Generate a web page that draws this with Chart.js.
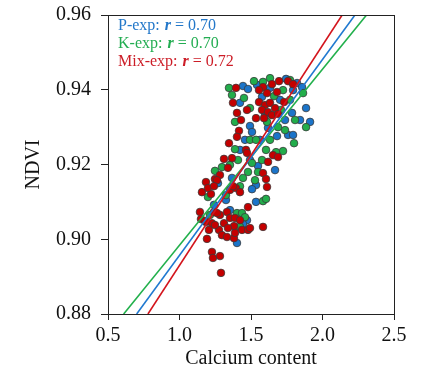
<!DOCTYPE html>
<html><head><meta charset="utf-8">
<script src="https://cdn.jsdelivr.net/npm/chart.js@4"></script>
<style>html,body{margin:0;padding:0;background:#fff}#wrap{width:423px;height:378px}</style>
</head><body><div id="wrap"><canvas id="c" width="423" height="378"></canvas></div>
<script>
const xTicks = [0.5, 1.0, 1.5, 2.0, 2.5];
const yTicks = [0.88, 0.90, 0.92, 0.94, 0.96];
const seriesNames = ['P-exp', 'K-exp', 'Mix-exp'];
const rValues = ['0.70', '0.70', '0.72'];
const slopes = [0.0524, 0.0471, 0.0589];
const intercepts = [0.8433, 0.8513, 0.8341];

const blueX = [1.444,1.479,1.542,1.745,1.822,1.857,1.794,1.633,1.423,1.787,1.885,1.913,1.843,1.493,1.507,1.619,1.682,1.759,1.794,1.493,1.549,1.535,1.269,1.507,1.535,1.353,1.472,1.444,1.402,1.563,1.458,1.668,1.703,1.577,1.325,1.423,1.738,1.241,1.367,1.598];
const blueY = [0.9410,0.9402,0.9413,0.9429,0.9418,0.9407,0.9399,0.9405,0.9365,0.9338,0.9351,0.9314,0.9319,0.9303,0.9287,0.9298,0.9276,0.9279,0.9279,0.9212,0.9196,0.9145,0.9150,0.9134,0.9100,0.9078,0.9051,0.9041,0.8990,0.9266,0.9266,0.9185,0.9373,0.9381,0.9105,0.9239,0.9319,0.9092,0.9164,0.9332];

const greenX = [1.346,1.521,1.584,1.724,1.864,1.633,1.773,1.367,1.710,1.885,1.808,1.388,1.493,1.612,1.689,1.801,1.388,1.605,1.724,1.675,1.409,1.507,1.479,1.248,1.297,1.353,1.444,1.423,1.199,1.584,1.605,1.402,1.437,1.423,1.213,1.528,1.493,1.773,1.633,1.738,1.577,1.458,1.549,1.325,1.451,1.661,1.535];
const greenY = [0.9405,0.9423,0.9421,0.9399,0.9391,0.9431,0.9426,0.9386,0.9346,0.9300,0.9319,0.9314,0.9351,0.9314,0.9300,0.9257,0.9241,0.9239,0.9236,0.9233,0.9212,0.9204,0.9180,0.9183,0.9193,0.9199,0.9164,0.9142,0.9113,0.9102,0.9108,0.9070,0.9070,0.9033,0.9065,0.9158,0.9266,0.9373,0.9266,0.9292,0.9212,0.9059,0.9180,0.9118,0.9378,0.9383,0.9266];

const redX = [1.395,1.584,1.647,1.696,1.759,1.556,1.682,1.612,1.794,1.374,1.731,1.402,1.430,1.472,1.535,1.556,1.598,1.633,1.668,1.577,1.619,1.647,1.689,1.591,1.416,1.402,1.346,1.465,1.472,1.654,1.689,1.311,1.367,1.619,1.339,1.185,1.248,1.283,1.262,1.584,1.605,1.157,1.220,1.199,1.241,1.353,1.395,1.423,1.374,1.612,1.479,1.143,1.150,1.185,1.241,1.283,1.332,1.353,1.311,1.388,1.423,1.381,1.437,1.339,1.276,1.297,1.332,1.381,1.388,1.479,1.493,1.584,1.192,1.227,1.234,1.283,1.290,1.178,1.227,1.262,1.248,1.206];
const redY = [0.9405,0.9407,0.9415,0.9423,0.9423,0.9399,0.9394,0.9391,0.9415,0.9365,0.9367,0.9338,0.9319,0.9346,0.9324,0.9367,0.9359,0.9365,0.9351,0.9346,0.9340,0.9332,0.9335,0.9324,0.9290,0.9274,0.9257,0.9239,0.9231,0.9225,0.9220,0.9215,0.9217,0.9207,0.9191,0.9153,0.9161,0.9172,0.9158,0.9177,0.9161,0.9126,0.9121,0.9137,0.9142,0.9132,0.9137,0.9126,0.9142,0.9140,0.9086,0.9073,0.9054,0.9046,0.9073,0.9065,0.9073,0.9057,0.9043,0.9057,0.9051,0.9035,0.9025,0.9030,0.9025,0.9011,0.9006,0.9003,0.9017,0.9025,0.9030,0.9033,0.9001,0.8966,0.8950,0.8955,0.8910,0.9049,0.9043,0.9070,0.9038,0.9025];

const textColors = ['#2277c9', '#23ad52', '#cc1d27'];
const fillColors = ['#1b74c9', '#22ad4b', '#c40000'];
const lineColors = ['#2079d0', '#22b04c', '#d3141c'];

const pts = (xs, ys) => xs.map((x, i) => ({x, y: ys[i]}));
const yMin = yTicks[0], yMax = yTicks[yTicks.length - 1];
const linePts = (k) => [
  {x: (yMin - intercepts[k]) / slopes[k], y: yMin},
  {x: (yMax - intercepts[k]) / slopes[k], y: yMax}
];
const FONT = "'Liberation Serif', 'Times New Roman', serif";

const lineDs = (k) => ({type: 'line', data: linePts(k), borderColor: lineColors[k], borderWidth: 1.6,
  pointRadius: 0, fill: false, showLine: true});
const ptDs = (k, xs, ys) => ({type: 'scatter', data: pts(xs, ys), backgroundColor: fillColors[k],
  borderColor: '#3a3a3a', borderWidth: 0.8, pointRadius: 3.8});

const boxAndLegend = {
  id: 'boxAndLegend',
  afterDraw(chart) {
    const {ctx, chartArea: a} = chart;
    ctx.save();
    ctx.strokeStyle = '#222';
    ctx.lineWidth = 1;
    ctx.strokeRect(a.left + 0.5, a.top + 0.5, a.right - a.left, a.bottom - a.top);
    ctx.textBaseline = 'alphabetic';
    ctx.textAlign = 'left';
    const x0 = a.left + 10;
    for (let k = 0; k < 3; k++) {
      const y = a.top + 15 + k * 18;
      ctx.fillStyle = textColors[k];
      let x = x0;
      ctx.font = `16px ${FONT}`;
      const s1 = seriesNames[k] + ': ';
      ctx.fillText(s1, x, y); x += ctx.measureText(s1).width + 1;
      ctx.font = `italic bold 16px ${FONT}`;
      ctx.fillText('r', x, y); x += ctx.measureText('r').width;
      ctx.font = `16px ${FONT}`;
      ctx.fillText(' = ' + rValues[k], x, y);
    }
    ctx.restore();
  }
};

new Chart(document.getElementById('c'), {
  data: {datasets: [lineDs(2), lineDs(0), lineDs(1),
    ptDs(2, redX, redY), ptDs(1, greenX, greenY), ptDs(0, blueX, blueY)]},
  options: {
    responsive: false, animation: false,
    layout: {padding: {left: 0, right: 29, top: 15, bottom: 0}},
    plugins: {legend: {display: false}, tooltip: {enabled: false}},
    scales: {
      x: {type: 'linear', min: xTicks[0], max: xTicks[xTicks.length - 1],
        afterBuildTicks: s => { s.ticks = xTicks.map(v => ({value: v})); },
        afterFit: s => { s.height = 64; s.paddingLeft = 0; s.paddingRight = 0; },
        grid: {display: true, drawOnChartArea: false, drawTicks: true, tickLength: 6, color: '#222'},
        border: {display: true, color: '#222', width: 1},
        ticks: {color: '#111', padding: 4, font: {family: FONT, size: 20}, callback: v => Number(v).toFixed(1)},
        title: {display: true, text: 'Calcium content', color: '#111', font: {family: FONT, size: 20}, padding: {top: 0, bottom: 7}}
      },
      y: {type: 'linear', min: yMin, max: yMax,
        afterBuildTicks: s => { s.ticks = yTicks.map(v => ({value: v})); },
        afterFit: s => { s.width = 108; s.paddingTop = 0; s.paddingBottom = 0; },
        grid: {display: true, drawOnChartArea: false, drawTicks: true, tickLength: 7, color: '#222'},
        border: {display: true, color: '#222', width: 1},
        ticks: {color: '#111', padding: 10, font: {family: FONT, size: 20}, callback: v => Number(v).toFixed(2)},
        title: {display: true, text: 'NDVI', color: '#111', font: {family: FONT, size: 20}, padding: {top: 22, bottom: 0}}
      }
    }
  },
  plugins: [boxAndLegend]
});
</script></body></html>
